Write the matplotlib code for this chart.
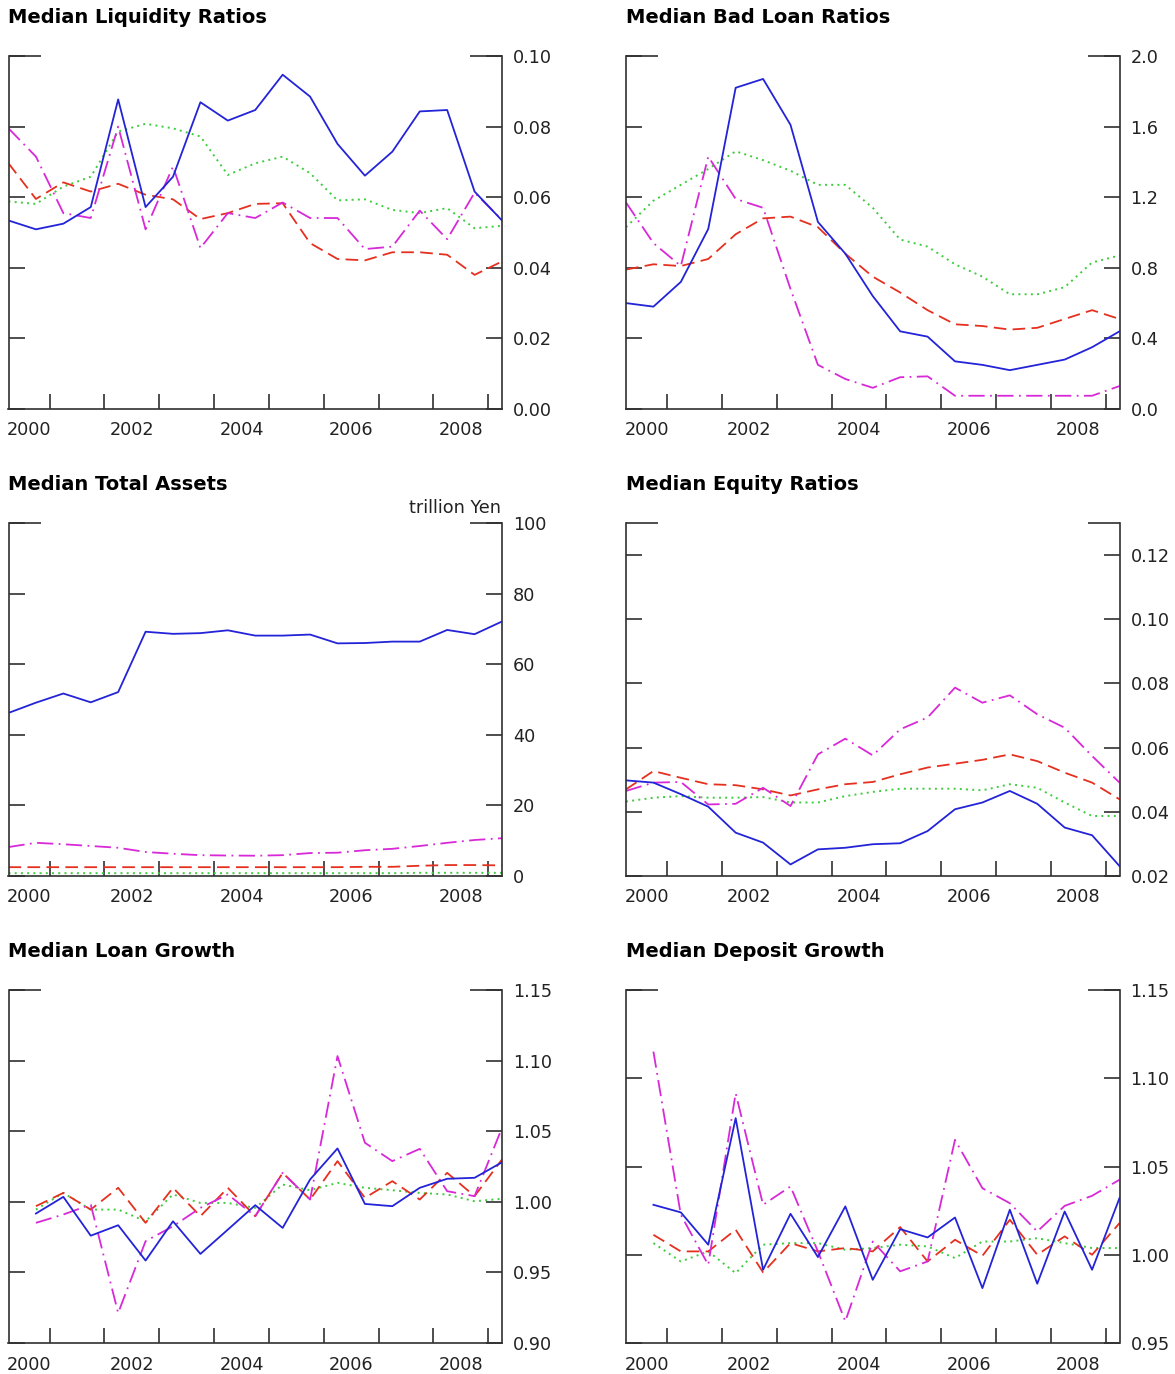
import matplotlib
matplotlib.use('Agg')
import matplotlib.pyplot as plt
from matplotlib.ticker import FixedLocator, FixedFormatter, NullFormatter

# half-year observation dates (growth series start one period later)
dates = [2000.25, 2000.75, 2001.25, 2001.75, 2002.25, 2002.75, 2003.25, 2003.75,
         2004.25, 2004.75, 2005.25, 2005.75, 2006.25, 2006.75, 2007.25, 2007.75,
         2008.25, 2008.75, 2009.25]
growth_dates = dates[1:]

# Median Liquidity Ratios
liq_blue = [0.0534, 0.0509, 0.0525, 0.0572, 0.0877, 0.0572, 0.0658, 0.0869, 0.0817, 0.0847,
            0.0947, 0.0885, 0.0751, 0.0661, 0.0729, 0.0843, 0.0847, 0.0616, 0.0534]
liq_red = [0.0696, 0.0595, 0.0642, 0.0616, 0.0638, 0.0607, 0.0594, 0.0538, 0.0555, 0.0581,
           0.0583, 0.0470, 0.0425, 0.0421, 0.0444, 0.0444, 0.0437, 0.0380, 0.0418]
liq_green = [0.0588, 0.0581, 0.0630, 0.0658, 0.0786, 0.0808, 0.0795, 0.0772, 0.0663, 0.0696,
             0.0715, 0.0668, 0.0591, 0.0594, 0.0564, 0.0555, 0.0569, 0.0512, 0.0519]
liq_magenta = [0.0795, 0.0715, 0.0555, 0.0541, 0.0800, 0.0509, 0.0687, 0.0456, 0.0555, 0.0541,
               0.0585, 0.0541, 0.0541, 0.0453, 0.0460, 0.0562, 0.0481, 0.0613, 0.0536]

# Median Bad Loan Ratios
bad_blue = [0.60, 0.58, 0.72, 1.02, 1.82, 1.87, 1.61, 1.06, 0.88, 0.64,
            0.44, 0.41, 0.27, 0.25, 0.22, 0.25, 0.28, 0.35, 0.44]
bad_red = [0.79, 0.82, 0.81, 0.85, 0.99, 1.08, 1.09, 1.03, 0.88, 0.75,
           0.66, 0.56, 0.48, 0.47, 0.45, 0.46, 0.51, 0.56, 0.51]
bad_green = [1.03, 1.18, 1.27, 1.36, 1.46, 1.41, 1.35, 1.27, 1.27, 1.14,
             0.96, 0.92, 0.82, 0.75, 0.65, 0.65, 0.69, 0.83, 0.87]
bad_magenta = [1.17, 0.94, 0.81, 1.43, 1.19, 1.14, 0.68, 0.25, 0.17, 0.12,
               0.18, 0.185, 0.075, 0.075, 0.075, 0.075, 0.075, 0.075, 0.13]

# Median Total Assets (trillion Yen)
ta_blue = [46.2, 49.1, 51.7, 49.2, 52.1, 69.2, 68.6, 68.8, 69.6, 68.1,
           68.1, 68.4, 65.9, 66.0, 66.4, 66.4, 69.7, 68.5, 72.1]
ta_red = [2.5, 2.5, 2.5, 2.5, 2.5, 2.5, 2.5, 2.5, 2.5, 2.5,
          2.5, 2.5, 2.5, 2.6, 2.6, 2.9, 3.1, 3.1, 3.0]
ta_green = [0.8, 0.8, 0.8, 0.8, 0.8, 0.8, 0.8, 0.8, 0.8, 0.8,
            0.8, 0.8, 0.8, 0.8, 0.8, 0.9, 0.9, 0.9, 0.9]
ta_magenta = [8.2, 9.4, 9.0, 8.5, 8.0, 6.8, 6.3, 5.9, 5.8, 5.75,
              5.9, 6.5, 6.6, 7.3, 7.7, 8.5, 9.4, 10.2, 10.7]

# Median Equity Ratios
eq_blue = [0.0498, 0.0491, 0.0455, 0.0416, 0.0335, 0.0304, 0.0236, 0.0283, 0.0288, 0.0299,
           0.0302, 0.0340, 0.0408, 0.0429, 0.0465, 0.0425, 0.0351, 0.0327, 0.0231]
eq_red = [0.0470, 0.0527, 0.0506, 0.0486, 0.0483, 0.0470, 0.0451, 0.0470, 0.0486, 0.0493,
          0.0517, 0.0538, 0.0550, 0.0562, 0.0579, 0.0558, 0.0522, 0.0491, 0.0439]
eq_green = [0.0432, 0.0444, 0.0449, 0.0444, 0.0444, 0.0446, 0.0429, 0.0429, 0.0449, 0.0462,
            0.0472, 0.0472, 0.0472, 0.0467, 0.0486, 0.0475, 0.0429, 0.0387, 0.0387]
eq_magenta = [0.0465, 0.0491, 0.0493, 0.0423, 0.0425, 0.0475, 0.0418, 0.0579, 0.0628, 0.0576,
              0.0657, 0.0694, 0.0787, 0.0740, 0.0763, 0.0704, 0.0662, 0.0574, 0.0491]

# Median Loan Growth
lg_blue = [0.9917, 1.0035, 0.9760, 0.9834, 0.9584, 0.9862, 0.9631, 0.9803, 0.9976,
           0.9815, 1.0158, 1.0378, 0.9985, 0.9969, 1.0099, 1.0163, 1.0170, 1.0280]
lg_red = [0.9969, 1.0063, 0.9945, 1.0099, 0.9851, 1.0099, 0.9898, 1.0099, 0.9898,
          1.0205, 1.0016, 1.0288, 1.0028, 1.0146, 1.0016, 1.0205, 1.0040, 1.0300]
lg_green = [0.9945, 1.0063, 0.9945, 0.9945, 0.9862, 1.0052, 0.9992, 0.9992, 0.9957,
            1.0122, 1.0082, 1.0134, 1.0099, 1.0082, 1.0063, 1.0052, 1.0004, 1.0021]
lg_magenta = [0.9851, 0.9910, 0.9980, 0.9213, 0.9721, 0.9827, 0.9957, 1.0052, 0.9898,
              1.0205, 1.0016, 1.1032, 1.0418, 1.0288, 1.0375, 1.0075, 1.0040, 1.0524]

# Median Deposit Growth
dg_blue = [1.0283, 1.0240, 1.0057, 1.0774, 0.9915, 1.0232, 0.9987, 1.0274, 0.9858,
           1.0145, 1.0098, 1.0211, 0.9811, 1.0255, 0.9836, 1.0245, 0.9915, 1.0321]
dg_red = [1.0113, 1.0019, 1.0019, 1.0142, 0.9900, 1.0066, 1.0019, 1.0038, 1.0019,
          1.0157, 0.9962, 1.0085, 0.9994, 1.0198, 1.0000, 1.0104, 1.0000, 1.0179]
dg_green = [1.0066, 0.9962, 1.0019, 0.9896, 1.0057, 1.0066, 1.0066, 1.0028, 1.0038,
            1.0057, 1.0047, 0.9981, 1.0075, 1.0075, 1.0094, 1.0066, 1.0038, 1.0038]
dg_magenta = [1.1151, 1.0226, 0.9943, 1.0915, 1.0283, 1.0387, 1.0019, 0.9623, 1.0075,
              0.9906, 0.9962, 1.0651, 1.0377, 1.0292, 1.0132, 1.0277, 1.0334, 1.0425]

year_ticks = [2001, 2002, 2003, 2004, 2005, 2006, 2007, 2008, 2009]
year_label_pos = [2000.63, 2002.5, 2004.5, 2006.5, 2008.5]
year_labels = ['2000', '2002', '2004', '2006', '2008']

INK = '#303030'
BLUE = '#2323d8'
RED = '#e5301f'
GREEN = '#3ccc3c'
MAGENTA = '#d829d8'


def setup_panel(ax, title, ylim, yticks, ylabels):
    ax.set_xlim(2000.25, 2009.25)
    ax.set_ylim(*ylim)
    ax.spines['top'].set_visible(False)
    for s in ['left', 'right', 'bottom']:
        ax.spines[s].set_color(INK)
        ax.spines[s].set_linewidth(1.2)

    # x axis: inward ticks on year boundaries, labels centred in the year
    ax.xaxis.set_major_locator(FixedLocator(year_ticks))
    ax.xaxis.set_major_formatter(NullFormatter())
    ax.xaxis.set_minor_locator(FixedLocator(year_label_pos))
    ax.xaxis.set_minor_formatter(FixedFormatter(year_labels))
    ax.tick_params(axis='x', which='major', direction='in', length=10.8, width=1.2,
                   color=INK, top=False)
    ax.tick_params(axis='x', which='minor', length=0, pad=9, labelsize=12.7,
                   labelcolor='#222222', top=False)

    # y axis: ticks on both sides, labels on the right, long tick at the top
    ax.yaxis.set_major_locator(FixedLocator(yticks))
    ax.yaxis.set_major_formatter(FixedFormatter(ylabels))
    ax.yaxis.set_minor_locator(FixedLocator([ylim[1]]))
    ax.yaxis.remove_overlapping_locs = False
    ax.tick_params(axis='y', which='both', direction='in', left=True, right=True,
                   labelleft=False, labelright=True, width=1.2, color=INK,
                   labelsize=12.7, labelcolor='#222222', pad=8)
    ax.tick_params(axis='y', which='major', length=11.5)
    ax.tick_params(axis='y', which='minor', length=23)

    ax.text(0, 1.093, title, transform=ax.transAxes, fontsize=14,
            fontweight='bold', ha='left', va='baseline', color='black')


def draw_lines(ax, x, blue, red, green, magenta):
    ax.plot(x, green, color=GREEN, lw=1.4, dashes=(1, 2.2))
    ax.plot(x, red, color=RED, lw=1.3, dashes=(7, 3.5))
    ax.plot(x, magenta, color=MAGENTA, lw=1.3, dashes=(9, 3, 1, 3))
    ax.plot(x, blue, color=BLUE, lw=1.3)


fig = plt.figure(figsize=(11.75, 13.74), dpi=100)

W = 493.5 / 1175
H = 353 / 1374
lefts = [8.5 / 1175, 626 / 1175]
bottoms = [1 - 409 / 1374, 1 - 876 / 1374, 1 - 1343 / 1374]

ax1 = fig.add_axes([lefts[0], bottoms[0], W, H])
setup_panel(ax1, 'Median Liquidity Ratios', (0, 0.10),
            [0, 0.02, 0.04, 0.06, 0.08, 0.10],
            ['0.00', '0.02', '0.04', '0.06', '0.08', '0.10'])
draw_lines(ax1, dates, liq_blue, liq_red, liq_green, liq_magenta)

ax2 = fig.add_axes([lefts[1], bottoms[0], W, H])
setup_panel(ax2, 'Median Bad Loan Ratios', (0, 2.0),
            [0, 0.4, 0.8, 1.2, 1.6, 2.0],
            ['0.0', '0.4', '0.8', '1.2', '1.6', '2.0'])
draw_lines(ax2, dates, bad_blue, bad_red, bad_green, bad_magenta)

ax3 = fig.add_axes([lefts[0], bottoms[1], W, H])
setup_panel(ax3, 'Median Total Assets', (0, 100),
            [0, 20, 40, 60, 80, 100],
            ['0', '20', '40', '60', '80', '100'])
draw_lines(ax3, dates, ta_blue, ta_red, ta_green, ta_magenta)
ax3.text(0.998, 1.017, 'trillion Yen', transform=ax3.transAxes, fontsize=12.7,
         ha='right', va='bottom', color='#222222')

ax4 = fig.add_axes([lefts[1], bottoms[1], W, H])
setup_panel(ax4, 'Median Equity Ratios', (0.02, 0.13),
            [0.02, 0.04, 0.06, 0.08, 0.10, 0.12],
            ['0.02', '0.04', '0.06', '0.08', '0.10', '0.12'])
draw_lines(ax4, dates, eq_blue, eq_red, eq_green, eq_magenta)

ax5 = fig.add_axes([lefts[0], bottoms[2], W, H])
setup_panel(ax5, 'Median Loan Growth', (0.90, 1.15),
            [0.90, 0.95, 1.00, 1.05, 1.10, 1.15],
            ['0.90', '0.95', '1.00', '1.05', '1.10', '1.15'])
draw_lines(ax5, growth_dates, lg_blue, lg_red, lg_green, lg_magenta)

ax6 = fig.add_axes([lefts[1], bottoms[2], W, H])
setup_panel(ax6, 'Median Deposit Growth', (0.95, 1.15),
            [0.95, 1.00, 1.05, 1.10, 1.15],
            ['0.95', '1.00', '1.05', '1.10', '1.15'])
draw_lines(ax6, growth_dates, dg_blue, dg_red, dg_green, dg_magenta)

plt.savefig('out.png', dpi=100)
plt.close()
